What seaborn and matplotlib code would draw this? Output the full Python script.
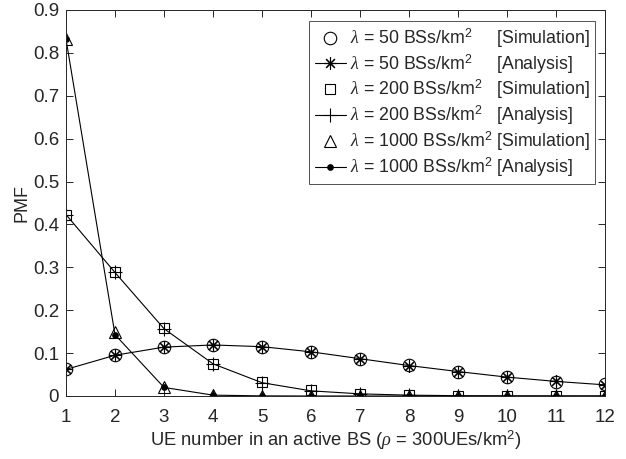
import numpy as np
import pandas as pd
import matplotlib
matplotlib.use("Agg")
import matplotlib.pyplot as plt
import seaborn as sns

sns.set_style("ticks")
plt.rcParams["font.family"] = ["Liberation Sans", "DejaVu Sans"]
plt.rcParams["mathtext.fontset"] = "custom"
plt.rcParams["mathtext.rm"] = "Liberation Sans"
plt.rcParams["mathtext.it"] = "Liberation Serif:italic"
plt.rcParams["mathtext.sf"] = "Liberation Sans"

# -----------------------
# Data
# -----------------------
ue_number = list(range(1, 13))

sim_50 = [0.062, 0.095, 0.115, 0.120, 0.115, 0.103, 0.087, 0.072, 0.057, 0.044, 0.033, 0.027]
ana_50 = [0.062, 0.095, 0.114, 0.119, 0.115, 0.103, 0.087, 0.071, 0.057, 0.044, 0.034, 0.026]

sim_200 = [0.423, 0.290, 0.158, 0.075, 0.032, 0.013, 0.005, 0.002, 0.0007, 0.0002, 0.0001, 0.0]
ana_200 = [0.423, 0.288, 0.157, 0.075, 0.031, 0.012, 0.005, 0.002, 0.0007, 0.0002, 0.0001, 0.0]

sim_1000 = [0.832, 0.150, 0.022, 0.003, 0.0004, 0.0, 0.0, 0.0, 0.0, 0.0, 0.0, 0.0]
ana_1000 = [0.832, 0.143, 0.020, 0.002, 0.0003, 0.0, 0.0, 0.0, 0.0, 0.0, 0.0, 0.0]

labels = [
    "$\\lambda$ = 50 BSs/km$^2$     [Simulation]",
    "$\\lambda$ = 50 BSs/km$^2$     [Analysis]",
    "$\\lambda$ = 200 BSs/km$^2$   [Simulation]",
    "$\\lambda$ = 200 BSs/km$^2$   [Analysis]",
    "$\\lambda$ = 1000 BSs/km$^2$ [Simulation]",
    "$\\lambda$ = 1000 BSs/km$^2$ [Analysis]",
]

# -----------------------
# Plot
# -----------------------
fig = plt.figure(figsize=(6.26, 4.59), dpi=100)
ax = fig.add_axes([66 / 626, 1 - 396 / 459, (605 - 66) / 626, (396 - 10) / 459])

series = [
    (sim_50, dict(marker="o", linestyle="", markersize=9, markerfacecolor="none")),
    (ana_50, dict(marker=(8, 2, 0), linestyle="-", markersize=9)),
    (sim_200, dict(marker="s", linestyle="", markersize=7.5, markerfacecolor="none")),
    (ana_200, dict(marker="+", linestyle="-", markersize=10)),
    (sim_1000, dict(marker="^", linestyle="", markersize=9, markerfacecolor="none")),
    (ana_1000, dict(marker="o", linestyle="-", markersize=4)),
]

for (vals, style), lab in zip(series, labels):
    sns.lineplot(x=ue_number, y=vals, ax=ax, color="black", linewidth=0.8,
                 markeredgewidth=0.8, markeredgecolor="black", label=lab, **style)

ax.set_xlim(1, 12)
ax.set_ylim(0, 0.9)
ax.set_xticks(ue_number)
ax.set_yticks(np.arange(0, 0.91, 0.1))
ax.set_yticklabels(["0"] + [f"{v:.1f}" for v in np.arange(0.1, 0.91, 0.1)])
ax.tick_params(direction="in", top=True, right=True, labelsize=13.5, length=5,
               width=0.7, colors="#262626", labelcolor="#262626")
ax.tick_params(axis="x", pad=9.5)
ax.tick_params(axis="y", pad=5)
for sp in ax.spines.values():
    sp.set_linewidth(0.7)
    sp.set_color("#262626")

ax.set_xlabel("UE number in an active BS ($\\rho$ = 300UEs/km$^2$)", fontsize=13.2, color="#262626", labelpad=2)
ax.set_ylabel("PMF", fontsize=13, color="#262626", labelpad=2)

leg = ax.legend(loc="upper right", bbox_to_anchor=(0.981, 0.9715), fontsize=12.75,
                frameon=True, fancybox=False, edgecolor="#262626",
                handlelength=1.75, handletextpad=0.23, borderpad=0.3, labelspacing=0.14,
                borderaxespad=0)
leg.get_frame().set_linewidth(0.7)

fig.savefig("out.png", dpi=100)
